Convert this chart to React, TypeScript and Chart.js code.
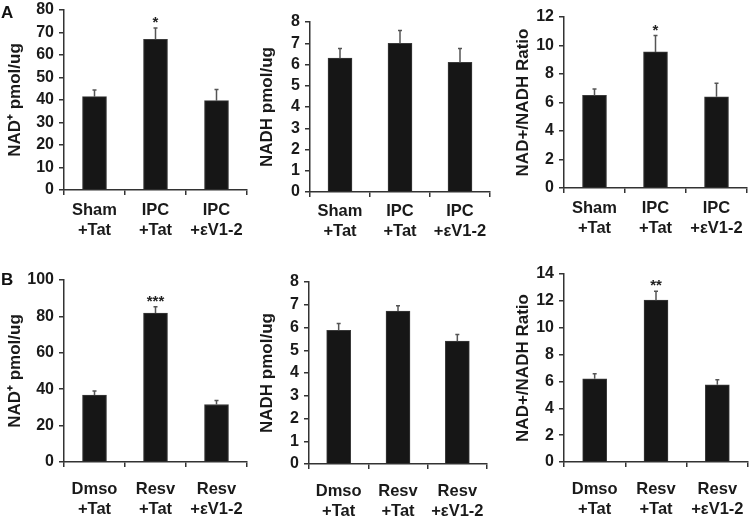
import React, { useEffect, useRef } from "react";
import { Chart, registerables } from "chart.js";

Chart.register(...registerables);

const FONT = "'Liberation Sans', Arial, Helvetica, sans-serif";
const AXIS = "#333333";
const INK = "#161616";

// ---- data ----
const categoriesA = [["Sham", "+Tat"], ["IPC", "+Tat"], ["IPC", "+εV1-2"]];
const categoriesB = [["Dmso", "+Tat"], ["Resv", "+Tat"], ["Resv", "+εV1-2"]];

const nadA = [41.5, 67, 39.7];
const nadAErr = [3, 5, 5];
const nadAStars = ["", "*", ""];

const nadhA = [6.3, 7.0, 6.1];
const nadhAErr = [0.45, 0.6, 0.65];
const nadhAStars = ["", "", ""];

const ratioA = [6.5, 9.55, 6.4];
const ratioAErr = [0.45, 1.15, 0.95];
const ratioAStars = ["", "*", ""];

const nadB = [36.8, 81.8, 31.6];
const nadBErr = [2.2, 3.5, 2.2];
const nadBStars = ["", "***", ""];

const nadhB = [5.88, 6.72, 5.4];
const nadhBErr = [0.3, 0.24, 0.29];
const nadhBStars = ["", "", ""];

const ratioB = [6.2, 12.05, 5.75];
const ratioBErr = [0.37, 0.67, 0.37];
const ratioBStars = ["", "**", ""];

const yMaxA = [80, 8, 12];
const yStepA = [10, 1, 2];
const yMaxB = [100, 8, 14];
const yStepB = [20, 1, 2];

const titleNad = "NAD⁺ pmol/ug";
const titleNadh = "NADH pmol/ug";
const titleRatio = "NAD+/NADH Ratio";

const errBarPlugin = {
  id: "errBars",
  afterDatasetsDraw(chart: any, _args: any, opts: any) {
    const { ctx } = chart;
    const meta = chart.getDatasetMeta(0);
    const ys = chart.scales.y;
    const values = chart.data.datasets[0].data as number[];
    meta.data.forEach((bar: any, i: number) => {
      const x = bar.x;
      const yTop = ys.getPixelForValue(values[i]);
      const yErr = ys.getPixelForValue(values[i] + opts.err[i]);
      ctx.save();
      ctx.strokeStyle = "#555";
      ctx.lineWidth = 1.5;
      ctx.beginPath();
      ctx.moveTo(x, yTop);
      ctx.lineTo(x, yErr);
      ctx.moveTo(x - 2, yErr);
      ctx.lineTo(x + 2, yErr);
      ctx.stroke();
      if (opts.stars[i]) {
        ctx.fillStyle = "#222";
        ctx.font = `bold 15px ${FONT}`;
        ctx.textAlign = "center";
        ctx.textBaseline = "alphabetic";
        ctx.fillText(opts.stars[i], x, yErr - 1);
      }
      ctx.restore();
    });
    if (opts.letter) {
      ctx.save();
      ctx.fillStyle = "#111";
      ctx.font = `bold 17px ${FONT}`;
      ctx.textAlign = "left";
      ctx.textBaseline = "alphabetic";
      ctx.fillText(opts.letter, 1, opts.letterY);
      ctx.restore();
    }
  },
};

type PanelProps = {
  left: number;
  top: number;
  axisX: number;
  plotTop: number;
  plotBottom: number;
  plotRight: number;
  max: number;
  step: number;
  title: string;
  titlePad: number;
  labelPad: number;
  cats: string[][];
  values: number[];
  err: number[];
  stars: string[];
  letter?: string;
  letterY?: number;
};

const W = 250;
const H = 258;

function Panel(p: PanelProps) {
  const ref = useRef<HTMLCanvasElement | null>(null);
  useEffect(() => {
    if (!ref.current) return;
    const chart = new Chart(ref.current, {
      type: "bar",
      data: {
        labels: p.cats,
        datasets: [
          {
            data: p.values,
            backgroundColor: INK,
            borderColor: "#3a3a3a",
            borderWidth: 1,
            barThickness: 24,
          },
        ],
      },
      plugins: [errBarPlugin],
      options: {
        animation: false,
        responsive: false,
        devicePixelRatio: 1,
        layout: { padding: { left: 0, top: p.plotTop, right: W - p.plotRight, bottom: 0 } },
        plugins: {
          legend: { display: false },
          tooltip: { enabled: false },
          errBars: { err: p.err, stars: p.stars, letter: p.letter, letterY: p.letterY },
        } as any,
        scales: {
          x: {
            type: "category",
            offset: true,
            grid: {
              offset: true,
              drawOnChartArea: false,
              drawTicks: true,
              tickLength: 5,
              color: AXIS,
              lineWidth: 1.5,
            },
            border: { color: AXIS, width: 1.5 },
            ticks: {
              color: "#1a1a1a",
              font: { family: FONT, size: 16.5, weight: "bold", lineHeight: 1.17 },
              padding: p.labelPad,
              maxRotation: 0,
              autoSkip: false,
            },
            afterFit: (s: any) => {
              s.height = H - p.plotBottom;
              s.paddingLeft = 0;
              s.paddingRight = 0;
            },
          },
          y: {
            min: 0,
            max: p.max,
            ticks: {
              stepSize: p.step,
              autoSkip: false,
              maxTicksLimit: 20,
              color: "#1a1a1a",
              font: { family: FONT, size: 16, weight: "bold", lineHeight: 1 },
              padding: 5,
            },
            grid: {
              drawOnChartArea: false,
              tickLength: 5,
              color: AXIS,
              lineWidth: 1.5,
            },
            border: { color: AXIS, width: 1.5 },
            title: {
              display: true,
              text: p.title,
              color: "#1a1a1a",
              font: { family: FONT, size: 17, weight: "bold" },
              padding: { top: p.titlePad, bottom: 0 },
            },
            afterFit: (s: any) => {
              s.width = p.axisX;
              s.paddingTop = 0;
              s.paddingBottom = 0;
            },
          },
        },
      } as any,
    });
    return () => chart.destroy();
  }, []);
  return (
    <canvas
      ref={ref}
      width={W}
      height={H}
      style={{ position: "absolute", left: p.left, top: p.top, width: W, height: H, display: "block" }}
    />
  );
}

export default function App() {
  return (
    <div style={{ position: "absolute", left: 0, top: 0, width: 750, height: 516, background: "#fff", overflow: "hidden" }}>
      <Panel left={0} top={0} axisX={64} plotTop={10} plotBottom={190} plotRight={247}
        max={yMaxA[0]} step={yStepA[0]} title={titleNad} titlePad={5} labelPad={6}
        cats={categoriesA} values={nadA} err={nadAErr} stars={nadAStars} letter="A" letterY={18} />
      <Panel left={250} top={0} axisX={60} plotTop={22} plotBottom={192} plotRight={240}
        max={yMaxA[1]} step={yStepA[1]} title={titleNadh} titlePad={7} labelPad={5}
        cats={categoriesA} values={nadhA} err={nadhAErr} stars={nadhAStars} />
      <Panel left={500} top={0} axisX={64} plotTop={17} plotBottom={188} plotRight={247}
        max={yMaxA[2]} step={yStepA[2]} title={titleRatio} titlePad={13} labelPad={6}
        cats={categoriesA} values={ratioA} err={ratioAErr} stars={ratioAStars} />
      <Panel left={0} top={258} axisX={64} plotTop={22} plotBottom={204} plotRight={247}
        max={yMaxB[0]} step={yStepB[0]} title={titleNad} titlePad={5} labelPad={13}
        cats={categoriesB} values={nadB} err={nadBErr} stars={nadBStars} letter="B" letterY={27} />
      <Panel left={250} top={258} axisX={59} plotTop={24} plotBottom={206} plotRight={237}
        max={yMaxB[1]} step={yStepB[1]} title={titleNadh} titlePad={7} labelPad={13}
        cats={categoriesB} values={nadhB} err={nadhBErr} stars={nadhBStars} />
      <Panel left={500} top={258} axisX={64} plotTop={16} plotBottom={204} plotRight={248}
        max={yMaxB[2]} step={yStepB[2]} title={titleRatio} titlePad={13} labelPad={13}
        cats={categoriesB} values={ratioB} err={ratioBErr} stars={ratioBStars} />
    </div>
  );
}
